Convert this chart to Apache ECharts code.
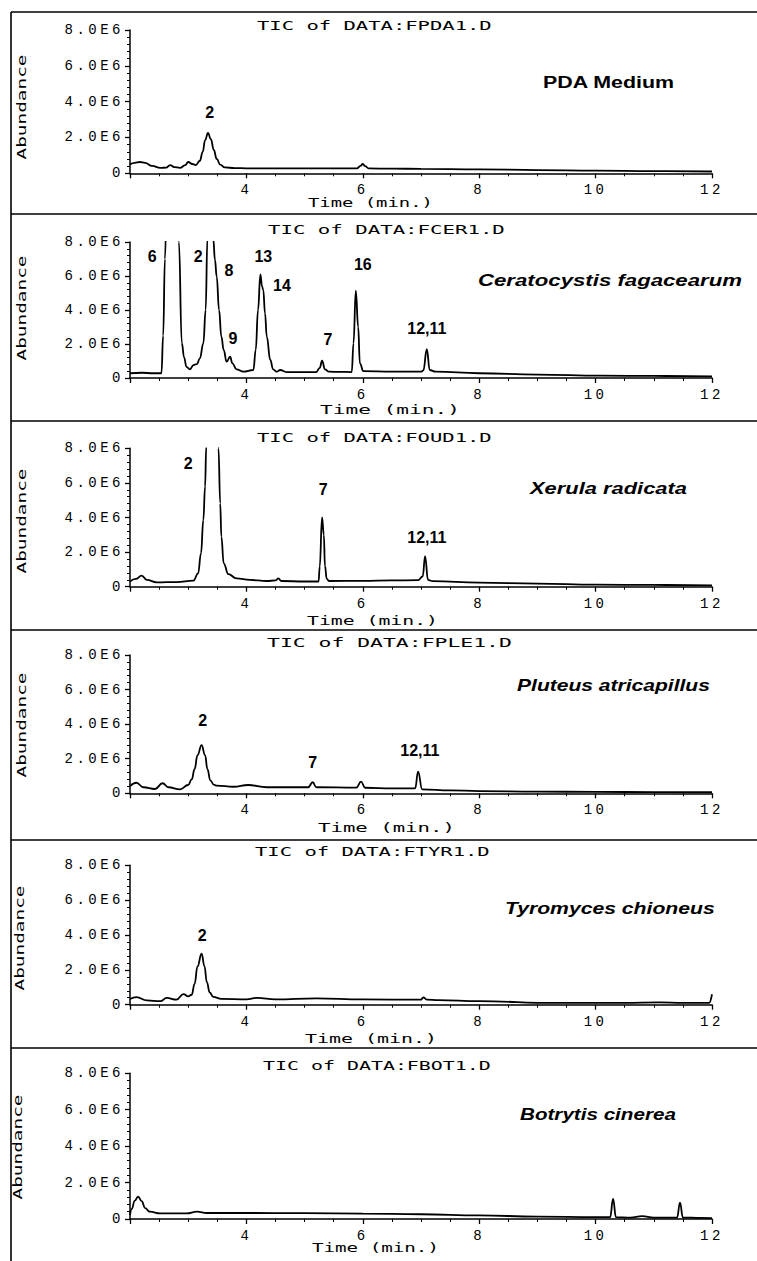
<!DOCTYPE html>
<html><head><meta charset="utf-8">
<script src="https://cdn.jsdelivr.net/npm/echarts@6/dist/echarts.min.js"></script>
<style>
html,body{margin:0;padding:0;background:#fff;}
#chart{width:757px;height:1261px;}
#chart text[style*="Liberation Mono"]{letter-spacing:3.5px;}
</style></head><body><div id="chart"></div>
<script>
// ---------------- DATA (time in min, abundance in units of 1E6) ----------------
const pdaTime  = [2.0, 2.08, 2.17, 2.26, 2.38, 2.52, 2.62, 2.69, 2.76, 2.86, 2.95, 3.0, 3.07, 3.13, 3.2, 3.25, 3.29, 3.34, 3.39, 3.44, 3.49, 3.55, 3.63, 3.8, 4.0, 4.5, 5.0, 5.5, 5.9, 5.96, 6.0, 6.04, 6.1, 6.5, 7.0, 8.0, 9.0, 10.0, 11.0, 12.0];
const pdaAbund = [0.5, 0.58, 0.63, 0.58, 0.41, 0.30, 0.32, 0.46, 0.35, 0.30, 0.46, 0.63, 0.52, 0.46, 0.7, 1.2, 1.85, 2.25, 1.9, 1.3, 0.8, 0.48, 0.33, 0.29, 0.28, 0.28, 0.27, 0.27, 0.27, 0.42, 0.52, 0.40, 0.27, 0.26, 0.25, 0.22, 0.18, 0.15, 0.12, 0.10];
const pdaPeaks = [['2', 3.37, 3.42]];

const cerTime  = [2.0, 2.2, 2.4, 2.54, 2.57, 2.6, 2.64, 2.72, 2.8, 2.84, 2.89, 2.93, 2.97, 3.03, 3.09, 3.15, 3.2, 3.26, 3.3, 3.33, 3.38, 3.43, 3.46, 3.49, 3.53, 3.57, 3.61, 3.66, 3.72, 3.76, 3.83, 3.95, 4.12, 4.16, 4.2, 4.24, 4.27, 4.29, 4.32, 4.35, 4.41, 4.46, 4.52, 4.58, 4.69, 5.0, 5.2, 5.26, 5.3, 5.35, 5.42, 5.6, 5.81, 5.84, 5.88, 5.92, 5.95, 6.01, 6.5, 7.0, 7.04, 7.1, 7.15, 7.25, 8.0, 9.0, 10.1, 11.0, 12.0];
const cerAbund = [0.28, 0.31, 0.28, 0.28, 2.5, 7.0, 12, 20, 14, 8.0, 2.06, 1.2, 0.66, 0.51, 0.76, 0.82, 1.16, 2.04, 4.0, 8.2, 13, 8.2, 6.94, 5.96, 4.0, 2.43, 1.65, 0.96, 1.25, 0.86, 0.51, 0.37, 0.47, 1.65, 4.0, 6.1, 5.37, 5.18, 3.8, 2.43, 1.06, 0.51, 0.37, 0.47, 0.35, 0.35, 0.35, 0.6, 1.02, 0.51, 0.37, 0.36, 0.35, 2.04, 5.14, 3.02, 0.86, 0.4, 0.38, 0.37, 0.45, 1.69, 0.47, 0.37, 0.28, 0.2, 0.14, 0.12, 0.1];
const cerPeaks = [['6', 2.38, 7.12], ['2', 3.17, 7.12], ['8', 3.70, 6.35], ['13', 4.29, 7.12], ['14', 4.61, 5.47], ['9', 3.77, 2.35], ['7', 5.40, 2.24], ['16', 6.0, 6.65], ['12,11', 7.10, 2.94]];

const xerTime  = [2.0, 2.1, 2.2, 2.29, 2.46, 2.8, 3.09, 3.17, 3.22, 3.26, 3.29, 3.31, 3.36, 3.42, 3.48, 3.52, 3.55, 3.57, 3.61, 3.69, 3.83, 4.06, 4.35, 4.5, 4.55, 4.6, 5.0, 5.24, 5.26, 5.3, 5.33, 5.35, 5.38, 5.42, 6.0, 6.5, 6.95, 7.03, 7.07, 7.12, 7.2, 8.0, 9.0, 10.0, 11.0, 12.0];
const xerAbund = [0.3, 0.45, 0.64, 0.39, 0.25, 0.27, 0.35, 0.77, 1.93, 3.86, 5.78, 8.1, 14, 16, 13, 8.0, 4.82, 2.89, 1.35, 0.73, 0.48, 0.39, 0.33, 0.36, 0.48, 0.33, 0.3, 0.3, 1.16, 4.01, 3.0, 1.2, 0.45, 0.33, 0.34, 0.36, 0.38, 0.6, 1.77, 0.4, 0.32, 0.23, 0.18, 0.12, 0.1, 0.08];
const xerPeaks = [['2', 3.0, 7.15], ['7', 5.32, 5.59], ['12,11', 7.10, 2.87]];

const pluTime  = [2.0, 2.11, 2.23, 2.43, 2.56, 2.66, 2.86, 3.0, 3.06, 3.11, 3.16, 3.23, 3.29, 3.33, 3.38, 3.44, 3.49, 3.78, 4.03, 4.35, 4.75, 5.06, 5.14, 5.2, 5.89, 5.97, 6.04, 6.5, 6.9, 6.95, 7.02, 7.5, 8.0, 9.0, 10.0, 11.0, 12.0];
const pluAbund = [0.42, 0.61, 0.35, 0.25, 0.58, 0.35, 0.23, 0.48, 0.8, 1.4, 2.2, 2.79, 2.2, 1.4, 0.75, 0.5, 0.44, 0.38, 0.48, 0.35, 0.35, 0.35, 0.64, 0.35, 0.33, 0.67, 0.32, 0.28, 0.29, 1.25, 0.23, 0.17, 0.13, 0.1, 0.08, 0.07, 0.06];
const pluPeaks = [['2', 3.25, 4.24], ['7', 5.14, 1.81], ['12,11', 6.98, 2.5]];

const tyrTime  = [2.0, 2.11, 2.29, 2.52, 2.63, 2.8, 2.92, 3.0, 3.06, 3.11, 3.16, 3.23, 3.28, 3.32, 3.37, 3.43, 3.57, 4.0, 4.18, 4.5, 5.2, 6.0, 7.0, 7.04, 7.1, 7.3, 8.0, 9.3, 10.5, 11.1, 11.5, 11.95, 12.0];
const tyrAbund = [0.33, 0.44, 0.25, 0.2, 0.39, 0.29, 0.61, 0.48, 0.57, 1.2, 2.2, 2.93, 2.2, 1.3, 0.7, 0.45, 0.33, 0.3, 0.39, 0.3, 0.36, 0.3, 0.29, 0.42, 0.29, 0.26, 0.2, 0.1, 0.1, 0.13, 0.1, 0.1, 0.6];
const tyrPeaks = [['2', 3.24, 4.0]];

const botTime  = [2.0, 2.03, 2.08, 2.14, 2.2, 2.26, 2.34, 2.52, 2.97, 3.15, 3.32, 4.0, 5.0, 6.0, 7.0, 8.0, 9.0, 10.0, 10.25, 10.3, 10.35, 10.6, 10.8, 11.0, 11.4, 11.45, 11.5, 11.8, 12.0];
const botAbund = [0.22, 0.55, 1.0, 1.23, 0.98, 0.6, 0.4, 0.31, 0.31, 0.4, 0.33, 0.33, 0.32, 0.3, 0.26, 0.2, 0.13, 0.1, 0.1, 1.1, 0.1, 0.08, 0.16, 0.08, 0.08, 0.9, 0.08, 0.06, 0.05];
const botPeaks = [];

const fileTitles = ['TIC of DATA:FPDA1.D', 'TIC of DATA:FCER1.D', 'TIC of DATA:FOUD1.D', 'TIC of DATA:FPLE1.D', 'TIC of DATA:FTYR1.D', 'TIC of DATA:FBOT1.D'];
const sampleNames = ['PDA Medium', 'Ceratocystis fagacearum', 'Xerula radicata', 'Pluteus atricapillus', 'Tyromyces chioneus', 'Botrytis cinerea'];
const xAxisName = 'Time (min.)';
const yAxisName = 'Abundance';

// ---------------- LAYOUT (pixels) ----------------
const panels = [
  {t: pdaTime, v: pdaAbund, peaks: pdaPeaks, italic: false, gTop: 30,    gBot: 173.3,  title: [257, 492, 25],   time: [308, 433, 203],  ab: [22, 107], sp: [543, 675, 82]},
  {t: cerTime, v: cerAbund, peaks: cerPeaks, italic: true,  gTop: 242,   gBot: 378,    title: [268, 505, 229],  time: [320, 460, 410],  ab: [22, 308], sp: [478, 742, 280]},
  {t: xerTime, v: xerAbund, peaks: xerPeaks, italic: true,  gTop: 448.3, gBot: 586.7,  title: [257, 492, 437],  time: [307, 438, 620],  ab: [22, 521], sp: [530, 687, 488]},
  {t: pluTime, v: pluAbund, peaks: pluPeaks, italic: true,  gTop: 655,   gBot: 793.3,  title: [267, 512, 643],  time: [318, 455, 827],  ab: [22, 725], sp: [517, 710, 685]},
  {t: tyrTime, v: tyrAbund, peaks: tyrPeaks, italic: true,  gTop: 865.3, gBot: 1004.7, title: [255, 490, 851],  time: [305, 437, 1038], ab: [20, 938], sp: [505, 715, 908]},
  {t: botTime, v: botAbund, peaks: botPeaks, italic: true,  gTop: 1073.3,gBot: 1219,   title: [263, 491, 1065], time: [312, 439, 1248], ab: [18, 1147], sp: [520, 676, 1114]}
];
const separators = [12, 214, 421, 630, 840, 1048];
const gridLeft = 130, gridWidth = 582;

const mctx = document.createElement('canvas').getContext('2d');
function measure(text, font) { mctx.font = font; return mctx.measureText(text).width; }
function stretched(text, font, x0, x1, y) {
  const s = (x1 - x0) / measure(text, font);
  return {type: 'text', x: x0, y: y, scaleX: s, silent: true, z: 10,
    style: {text: text, font: font, fill: '#000', textAlign: 'left', textVerticalAlign: 'middle'}};
}

const grids = [], xAxes = [], yAxes = [], series = [], graphics = [];
const monoFont = '13px "DejaVu Sans Mono"';
panels.forEach((p, i) => {
  grids.push({left: gridLeft, width: gridWidth, top: p.gTop, height: p.gBot - p.gTop, outerBoundsMode: 'none'});
  xAxes.push({
    type: 'value', gridIndex: i, min: 2, max: 12, interval: 2,
    axisLine: {show: true, onZero: false, lineStyle: {color: '#000', width: 1.5}},
    axisTick: {show: true, length: 5, lineStyle: {color: '#000', width: 1.3}},
    minorTick: {show: true, splitNumber: 4, length: 3, lineStyle: {color: '#000', width: 1}},
    splitLine: {show: false}, minorSplitLine: {show: false},
    axisLabel: {show: true, margin: 10, color: '#000', fontSize: 14, fontFamily: 'Liberation Mono',
      formatter: v => (v === 2 ? '' : String(v))}
  });
  yAxes.push({
    type: 'value', gridIndex: i, min: 0, max: 8, interval: 2,
    axisLine: {show: true, lineStyle: {color: '#000', width: 1.5}},
    axisTick: {show: true, length: 5, lineStyle: {color: '#000', width: 1.3}},
    minorTick: {show: true, splitNumber: 5, length: 3, lineStyle: {color: '#000', width: 1}},
    splitLine: {show: false}, minorSplitLine: {show: false},
    axisLabel: {show: true, margin: 6, color: '#000', fontSize: 14, fontFamily: 'Liberation Mono',
      formatter: v => (v === 0 ? '0' : v.toFixed(1) + 'E6')}
  });
  series.push({
    type: 'line', xAxisIndex: i, yAxisIndex: i, clip: true,
    data: p.t.map((t, j) => [t, p.v[j]]),
    showSymbol: false, symbol: 'none', smooth: 0.45, smoothMonotone: 'x',
    lineStyle: {color: '#000', width: 1.8},
    markPoint: {
      symbol: 'circle', symbolSize: 0, silent: true,
      label: {show: true, position: 'inside', formatter: q => q.name, color: '#000',
        fontFamily: 'Liberation Sans', fontWeight: 'bold', fontSize: 16},
      data: p.peaks.map(k => ({name: k[0], coord: [k[1], k[2]]}))
    }
  });
  graphics.push(stretched(fileTitles[i], monoFont, p.title[0], p.title[1], p.title[2]));
  graphics.push(stretched(xAxisName, monoFont, p.time[0], p.time[1], p.time[2]));
  const abW = measure(yAxisName, monoFont);
  graphics.push({type: 'text', x: p.ab[0], y: p.ab[1], rotation: Math.PI / 2, scaleX: 105 / abW, silent: true, z: 10,
    style: {text: yAxisName, font: monoFont, fill: '#000', textAlign: 'center', textVerticalAlign: 'middle'}});
  const spFont = (p.italic ? 'italic ' : '') + 'bold 17px "Liberation Sans"';
  graphics.push(stretched(sampleNames[i], spFont, p.sp[0], p.sp[1], p.sp[2]));
});

separators.forEach(y => {
  graphics.push({type: 'line', silent: true, shape: {x1: 11, y1: y, x2: 757, y2: y}, style: {stroke: '#000', lineWidth: 1.6}});
});
graphics.push({type: 'line', silent: true, shape: {x1: 11, y1: separators[0], x2: 11, y2: 1261}, style: {stroke: '#000', lineWidth: 1.6}});

const chart = echarts.init(document.getElementById('chart'), null, {renderer: 'svg'});
chart.setOption({
  animation: false,
  backgroundColor: '#fff',
  grid: grids, xAxis: xAxes, yAxis: yAxes, series: series,
  graphic: {elements: graphics}
});
</script></body></html>
